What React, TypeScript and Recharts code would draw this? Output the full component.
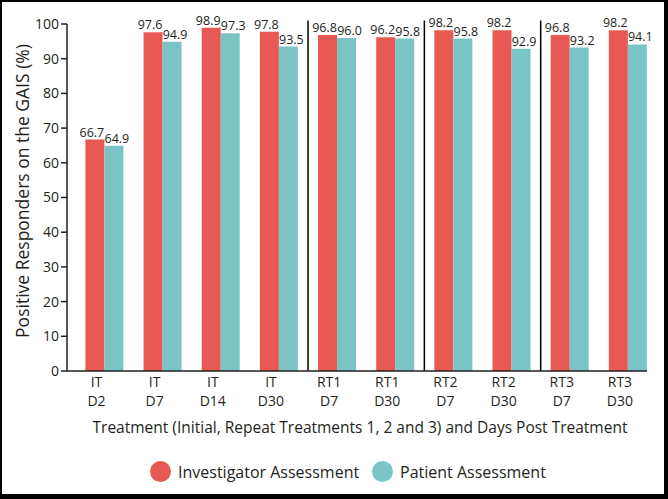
import React from 'react'
import {
  BarChart,
  Bar,
  XAxis,
  YAxis,
  Legend,
  LabelList,
  ReferenceLine,
  Label,
} from 'recharts'

const categories = [
  'IT D2',
  'IT D7',
  'IT D14',
  'IT D30',
  'RT1 D7',
  'RT1 D30',
  'RT2 D7',
  'RT2 D30',
  'RT3 D7',
  'RT3 D30',
]
const investigator = [66.7, 97.6, 98.9, 97.8, 96.8, 96.2, 98.2, 98.2, 96.8, 98.2]
const patient = [64.9, 94.9, 97.3, 93.5, 96.0, 95.8, 95.8, 92.9, 93.2, 94.1]
const yTicks = [0, 10, 20, 30, 40, 50, 60, 70, 80, 90, 100]
const groupStarts = ['RT1 D7', 'RT2 D7', 'RT3 D7']

const RED = '#e85954'
const TEAL = '#7bc4c5'
const INK = '#231f20'
const FONT = '"Open Sans", "Noto Sans", sans-serif'

const data = categories.map((name, i) => ({
  name,
  investigator: investigator[i],
  patient: patient[i],
}))

// two stacked lines, drawn as separate texts so their boxes don't collide
function TwoLineTick({ x, y, payload }: any) {
  const [top, bottom] = String(payload.value).split(' ')
  const cx = x - 8
  return (
    <g>
      <text x={cx} y={y + 15.5} textAnchor="middle" fontSize={14} fontFamily={FONT} fill={INK}>
        {top}
      </text>
      <text x={cx} y={y + 34.5} textAnchor="middle" fontSize={14} fontFamily={FONT} fill={INK}>
        {bottom}
      </text>
    </g>
  )
}

function LegendContent() {
  const items = [
    { label: 'Investigator Assessment', color: RED, width: 222 },
    { label: 'Patient Assessment', color: TEAL, width: 200 },
  ]
  return (
    <div style={{ display: 'flex', alignItems: 'center', height: 21 }}>
      {items.map((it) => (
        <div
          key={it.label}
          style={{ display: 'flex', alignItems: 'center', width: it.width }}
        >
          <svg width={21} height={21} style={{ marginRight: 7 }}>
            <circle cx={10.5} cy={10.5} r={10.5} fill={it.color} />
          </svg>
          <span style={{ fontSize: 16, fontFamily: FONT, color: INK, whiteSpace: 'nowrap' }}>
            {it.label}
          </span>
        </div>
      ))}
    </div>
  )
}

export default function App() {
  return (
    <div
      style={{
        position: 'absolute',
        left: 0,
        top: 0,
        width: 668,
        height: 499,
        boxSizing: 'border-box',
        borderTop: '2px solid #000',
        borderLeft: '2px solid #000',
        borderRight: '4px solid #000',
        borderBottom: '5px solid #000',
        background: '#fff',
      }}
    >
      <BarChart
        width={662}
        height={492}
        data={data}
        margin={{ top: 22, right: 17, left: 0, bottom: 53 }}
        barGap={0}
        barSize={19}
      >
        <XAxis
          dataKey="name"
          height={70}
          padding={{ left: 8.4, right: -10 }}
          axisLine={{ stroke: INK, strokeWidth: 1.5 }}
          tickLine={false}
          tickSize={0}
          tickMargin={0}
          interval={0}
          tick={<TwoLineTick />}
        >
          <Label
            content={() => (
              <text
                x={358}
                y={431}
                textAnchor="middle"
                fontSize={15.5}
                fontFamily={FONT}
                fill={INK}
              >
                Treatment (Initial, Repeat Treatments 1, 2 and 3) and Days Post Treatment
              </text>
            )}
          />
        </XAxis>
        <YAxis
          width={65}
          domain={[0, 100]}
          ticks={yTicks}
          interval={0}
          axisLine={{ stroke: INK, strokeWidth: 1.5 }}
          tickLine={{ stroke: INK, strokeWidth: 1.5 }}
          tickSize={6}
          tickMargin={2}
          tick={{ fontSize: 14, fill: INK, fontFamily: FONT }}
        >
          <Label
            content={() => (
              <text
                x={20}
                y={189}
                transform="rotate(-90 20 189)"
                textAnchor="middle"
                dominantBaseline="central"
                fontSize={17.5}
                fontFamily={FONT}
                fill={INK}
              >
                Positive Responders on the GAIS (%)
              </text>
            )}
          />
        </YAxis>
        {groupStarts.map((g) => (
          <ReferenceLine
            key={g}
            segment={[
              { x: g, y: 0 },
              { x: g, y: 101 },
            ]}
            position="start"
            ifOverflow="visible"
            stroke="#000"
            strokeWidth={1.5}
          />
        ))}
        <Bar dataKey="investigator" fill={RED} isAnimationActive={false}>
          <LabelList
            dataKey="investigator"
            position="top"
            offset={3}
            dx={-3}
            formatter={(v: any) => Number(v).toFixed(1)}
            style={{ fontSize: 12.5, fill: INK, fontFamily: FONT }}
          />
        </Bar>
        <Bar dataKey="patient" fill={TEAL} isAnimationActive={false}>
          <LabelList
            dataKey="patient"
            position="top"
            offset={3}
            dx={3}
            formatter={(v: any) => Number(v).toFixed(1)}
            style={{ fontSize: 12.5, fill: INK, fontFamily: FONT }}
          />
        </Bar>
        <Legend
          content={<LegendContent />}
          wrapperStyle={{
            position: 'absolute',
            left: 148,
            top: 459,
            width: 'auto',
            height: 0,
          }}
        />
      </BarChart>
    </div>
  )
}
